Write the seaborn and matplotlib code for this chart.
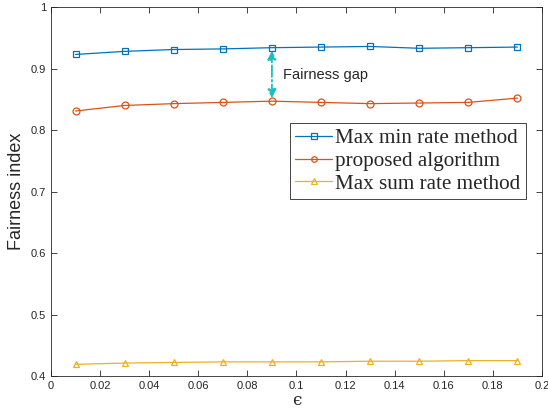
import numpy as np
import pandas as pd
import matplotlib
matplotlib.use("Agg")
import matplotlib.pyplot as plt
import seaborn as sns

# data
eps = [0.01, 0.03, 0.05, 0.07, 0.09, 0.11, 0.13, 0.15, 0.17, 0.19]
max_min = [0.923, 0.928, 0.931, 0.932, 0.934, 0.935, 0.936, 0.933, 0.934, 0.935]
proposed = [0.831, 0.840, 0.843, 0.845, 0.847, 0.845, 0.843, 0.844, 0.845, 0.852]
max_sum = [0.419, 0.421, 0.422, 0.423, 0.423, 0.423, 0.424, 0.424, 0.425, 0.425]
names = ["Max min rate method", "proposed algorithm", "Max sum rate method"]
colors = ["#0072BD", "#D95319", "#EDB120"]
markers = ["s", "o", "^"]
xticks = [0, 0.02, 0.04, 0.06, 0.08, 0.1, 0.12, 0.14, 0.16, 0.18, 0.2]
yticks = [0.4, 0.5, 0.6, 0.7, 0.8, 0.9, 1]

df = pd.DataFrame({"eps": eps * 3,
                   "val": max_min + proposed + max_sum,
                   "method": sum([[n] * len(eps) for n in names], [])})

sns.set_style("ticks")
plt.rcParams["font.family"] = ["Liberation Sans", "DejaVu Sans"]

fig = plt.figure(figsize=(5.48, 4.18), dpi=100)
ax = fig.add_axes([0.093, 0.1005, 0.896, 0.8825])

sns.lineplot(data=df, x="eps", y="val", hue="method", style="method",
             palette=colors, markers=markers, dashes=False, hue_order=names,
             style_order=names, ax=ax, linewidth=0.9, markersize=5,
             markeredgewidth=0.9, legend=False)
for line, c in zip(ax.lines, colors):
    line.set_markeredgecolor(c)
    line.set_markerfacecolor("none")

ax.set_xlim(0, 0.2)
ax.set_ylim(0.4, 1)
ax.set_xticks(xticks)
ax.set_xticklabels(["0", "0.02", "0.04", "0.06", "0.08", "0.1", "0.12",
                    "0.14", "0.16", "0.18", "0.2"])
ax.set_yticks(yticks)
ax.set_yticklabels(["0.4", "0.5", "0.6", "0.7", "0.8", "0.9", "1"])
ax.tick_params(direction="in", top=True, right=True, labelsize=8,
               length=4, width=0.6, colors="#262626")
for s in ax.spines.values():
    s.set_linewidth(0.6)
    s.set_color("#262626")
    s.set_visible(True)

ax.set_xlabel("\u03f5", fontsize=12, labelpad=1, family="DejaVu Serif")
ax.set_ylabel("Fairness index", fontsize=13, labelpad=4)

# fairness gap arrow
ax.annotate("", xy=(0.09, 0.929), xytext=(0.09, 0.852),
            arrowprops=dict(arrowstyle="<|-|>,head_length=0.5,head_width=0.25",
                            color="#1ABFBF", lw=1.3, linestyle="-.",
                            mutation_scale=10, shrinkA=0, shrinkB=0))
ax.text(0.0945, 0.889, "Fairness gap", fontsize=10.5, va="center", ha="left")

leg = ax.legend(handles=ax.lines[:3], labels=names,
                loc="upper right", bbox_to_anchor=(0.967, 0.686),
                prop={"family": "Liberation Serif", "size": 15.2},
                frameon=True, fancybox=False, framealpha=1,
                edgecolor="#262626", handlelength=1.75, handletextpad=0.15,
                borderpad=0.25, labelspacing=0.15, borderaxespad=0,
                markerscale=0.8)
leg.get_frame().set_linewidth(0.6)

fig.savefig("out.png", dpi=100)
